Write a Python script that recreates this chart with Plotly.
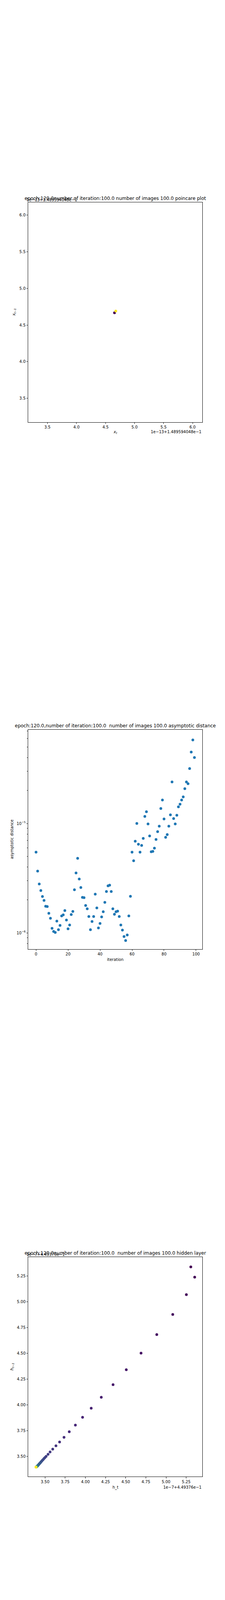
import plotly.graph_objects as go

# -------------------------
# poincare plot (values in units of 1e-13, offset 1.489594048e-1)
# -------------------------
poincare_x = [4.655, 4.677]
poincare_y = [4.667, 4.690]
poincare_c = [0, 99]
poincare_title = "epoch:120.0number of iteration:100.0 number of images 100.0 poincare plot"
poincare_offset = "1e\u221213+1.489594048e\u22121"
poincare_ticks = [3.5, 4.0, 4.5, 5.0, 5.5, 6.0]

# -------------------------
# asymptotic distance per iteration
# -------------------------
iteration = list(range(100))
asym_dist = [
    5.47e-6, 3.67e-6, 2.80e-6, 2.44e-6, 2.15e-6, 1.98e-6, 1.75e-6, 1.74e-6, 1.51e-6, 1.36e-6,
    1.10e-6, 1.03e-6, 1.01e-6, 1.28e-6, 1.07e-6, 1.17e-6, 1.43e-6, 1.46e-6, 1.60e-6, 1.31e-6,
    1.09e-6, 1.18e-6, 1.47e-6, 1.57e-6, 2.48e-6, 3.53e-6, 4.80e-6, 3.11e-6, 2.60e-6, 2.11e-6,
    2.10e-6, 1.78e-6, 1.66e-6, 1.41e-6, 1.07e-6, 1.27e-6, 1.41e-6, 2.26e-6, 1.69e-6, 1.11e-6,
    1.22e-6, 1.40e-6, 1.56e-6, 1.90e-6, 2.39e-6, 2.69e-6, 2.73e-6, 2.39e-6, 1.66e-6, 1.48e-6,
    1.56e-6, 1.58e-6, 1.41e-6, 1.18e-6, 1.06e-6, 9.25e-7, 8.51e-7, 9.57e-7, 1.43e-6, 2.16e-6,
    5.47e-6, 4.56e-6, 6.88e-6, 1.00e-5, 6.46e-6, 5.47e-6, 6.30e-6, 7.31e-6, 1.16e-5, 1.28e-5,
    9.90e-6, 7.69e-6, 5.51e-6, 5.56e-6, 5.95e-6, 7.14e-6, 8.42e-6, 9.44e-6, 1.37e-5, 1.64e-5,
    1.10e-5, 7.48e-6, 7.92e-6, 9.44e-6, 1.20e-5, 2.40e-5, 1.11e-5, 9.90e-6, 1.19e-5, 1.42e-5,
    1.50e-5, 1.64e-5, 1.75e-5, 2.08e-5, 2.40e-5, 2.31e-5, 3.18e-5, 4.50e-5, 5.81e-5, 4.01e-5,
]
asym_title = "epoch:120.0,number of iteration:100.0\u00a0 number of images 100.0 asymptotic distance"
asym_xticks = [0, 20, 40, 60, 80, 100]
asym_major = [1e-6, 1e-5]
asym_major_text = ["10<sup>\u22126</sup>", "10<sup>\u22125</sup>"]
asym_minor = [8e-7, 9e-7, 2e-6, 3e-6, 4e-6, 5e-6, 6e-6, 7e-6, 8e-6, 9e-6,
              2e-5, 3e-5, 4e-5, 5e-5, 6e-5, 7e-5]

# -------------------------
# hidden layer (values in units of 1e-7, offset 4.49376e-1)
# -------------------------
hidden_x = [
    5.307, 5.355, 5.252, 5.083, 4.885, 4.690, 4.507, 4.343, 4.197, 4.072,
    3.965, 3.876, 3.800, 3.735, 3.680, 3.635, 3.595, 3.562, 3.537, 3.513,
    3.499, 3.487, 3.476, 3.466, 3.457, 3.449, 3.442, 3.435, 3.429, 3.424,
    3.419, 3.415, 3.411, 3.408, 3.405, 3.402, 3.399, 3.397, 3.395, 3.393,
    3.392, 3.391, 3.390, 3.389, 3.388, 3.387,
]
hidden_y = [
    5.337, 5.238, 5.068, 4.876, 4.681, 4.501, 4.340, 4.195, 4.072, 3.966,
    3.878, 3.802, 3.738, 3.684, 3.638, 3.601, 3.569, 3.542, 3.519, 3.499,
    3.488, 3.478, 3.468, 3.460, 3.452, 3.445, 3.438, 3.432, 3.427, 3.422,
    3.418, 3.414, 3.411, 3.408, 3.406, 3.404, 3.402, 3.400, 3.399, 3.398,
    3.397, 3.396, 3.396, 3.395, 3.395, 3.395,
]
hidden_c = [
    0, 1, 2, 3, 4, 5, 6, 7, 8, 9,
    10, 11, 12, 13, 14, 15, 16, 17, 18, 19,
    20, 21, 22, 23, 24, 25, 26, 27, 28, 29,
    30, 31, 32, 33, 34, 35, 36, 38, 40, 44,
    50, 60, 70, 80, 90, 99,
]
hidden_title = "epoch:120.0number of iteration:100.0\u00a0 number of images 100.0 hidden layer"
hidden_offset = "1e\u22127+4.49376e\u22121"
hidden_ticks = [3.50, 3.75, 4.00, 4.25, 4.50, 4.75, 5.00, 5.25]

FONT = "DejaVu Sans"
BLUE = "#1f77b4"

fig = go.Figure()

fig.add_trace(go.Scatter(
    x=poincare_x, y=poincare_y, mode="markers", xaxis="x", yaxis="y",
    marker=dict(size=7, color=poincare_c, colorscale="Viridis", cmin=0, cmax=99,
                line=dict(width=0)),
    showlegend=False,
))
fig.add_trace(go.Scatter(
    x=iteration, y=asym_dist, mode="markers", xaxis="x2", yaxis="y2",
    marker=dict(size=7, color=BLUE, line=dict(width=0)),
    showlegend=False,
))
fig.add_trace(go.Scatter(
    x=hidden_x, y=hidden_y, mode="markers", xaxis="x3", yaxis="y3",
    marker=dict(size=7, color=hidden_c, colorscale="Viridis", cmin=0, cmax=99,
                line=dict(width=0)),
    showlegend=False,
))

axis_style = dict(
    showline=True, mirror=True, linecolor="black", linewidth=1,
    ticks="outside", ticklen=3.5, tickwidth=0.8, tickcolor="black",
    showgrid=False, zeroline=False,
    tickfont=dict(family=FONT, size=10, color="black"),
)

# y-domains from the pixel rows of the three axes boxes
fig.update_layout(
    width=576, height=4320,
    margin=dict(l=72, r=57.6, t=518.4, b=540, pad=0),
    paper_bgcolor="white", plot_bgcolor="white",
    font=dict(family=FONT, size=10, color="black"),
    xaxis=dict(axis_style, domain=[0, 1], anchor="y", range=[3.167, 6.168],
               tickvals=poincare_ticks, tickformat=".1f"),
    yaxis=dict(axis_style, domain=[0.8275, 1], anchor="x", range=[3.175, 6.173],
               tickvals=poincare_ticks, tickformat=".1f"),
    xaxis2=dict(axis_style, domain=[0, 1], anchor="y2", range=[-4.95, 103.95],
                tickvals=asym_xticks),
    yaxis2=dict(axis_style, domain=[0.4139, 0.5861], anchor="x2", type="log",
                range=[-6.149, -4.143], tickvals=asym_major, ticktext=asym_major_text,
                minor=dict(tickvals=asym_minor, ticks="outside", ticklen=2,
                           tickwidth=0.6, tickcolor="black")),
    xaxis3=dict(axis_style, domain=[0, 1], anchor="y3", range=[3.29, 5.45],
                tickvals=hidden_ticks, tickformat=".2f"),
    yaxis3=dict(axis_style, domain=[0, 0.1722], anchor="x3", range=[3.303, 5.432],
                tickvals=hidden_ticks, tickformat=".2f"),
)


def label(text, xref, yref, x, y, xanchor="center", yanchor="middle",
          xshift=0, yshift=0, size=10, angle=0):
    fig.add_annotation(
        text=text, xref=xref, yref=yref, x=x, y=y, xanchor=xanchor, yanchor=yanchor,
        xshift=xshift, yshift=yshift, textangle=angle, showarrow=False,
        font=dict(family=FONT, size=size, color="black"),
    )


# poincare
label(poincare_offset, "x domain", "y domain", 0, 1, xanchor="left", xshift=-6, yshift=7)
label(poincare_title, "x domain", "y domain", 0.5, 1, yshift=10, size=12)
label(poincare_offset, "x domain", "y domain", 1, 0, xanchor="right", yshift=-25)
label("<i>x<sub>t</sub></i>", "x domain", "y domain", 0.5, 0, yshift=-26)
label("<i>x<sub>t\u22121</sub></i>", "x domain", "y domain", 0, 0.5, xshift=-36, angle=-90)

# asymptotic distance
label(asym_title, "x2 domain", "y2 domain", 0.5, 1, yshift=10, size=12)
label("iteration", "x2 domain", "y2 domain", 0.5, 0, yshift=-27)
label("asymptotic distance", "x2 domain", "y2 domain", 0, 0.5, xshift=-42, angle=-90)

# hidden layer
label(hidden_offset, "x3 domain", "y3 domain", 0, 1, xanchor="left", xshift=-6, yshift=7)
label(hidden_title, "x3 domain", "y3 domain", 0.5, 1, yshift=10, size=12)
label(hidden_offset, "x3 domain", "y3 domain", 1, 0, xanchor="right", yshift=-27)
label("h_t", "x3 domain", "y3 domain", 0.5, 0, yshift=-28)
label("<i>h<sub>t\u22121</sub></i>", "x3 domain", "y3 domain", 0, 0.5, xshift=-41, angle=-90)

# page margin off so the 576x4320 figure sits exactly in the window
fig.write_html("out.html", config={"displayModeBar": False},
               post_script="document.body.style.margin='0';")
